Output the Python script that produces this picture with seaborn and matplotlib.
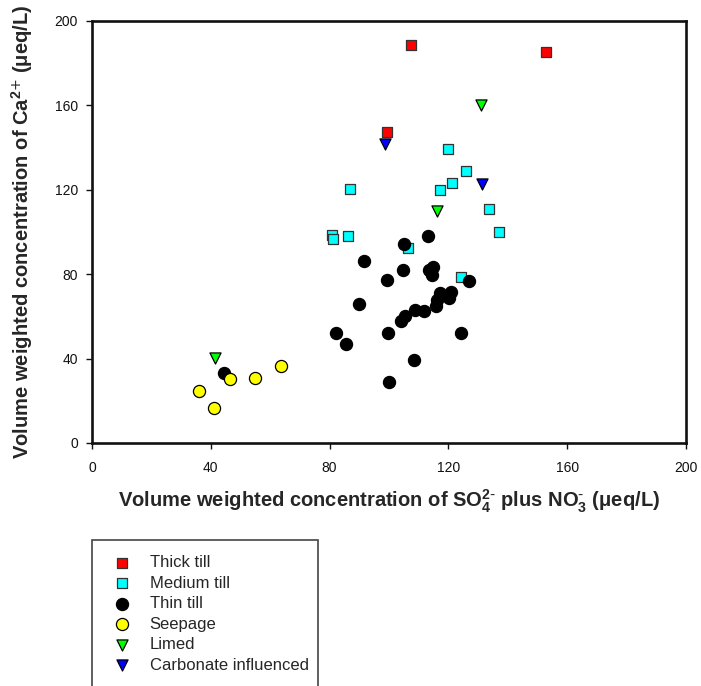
import matplotlib
matplotlib.use("Agg")
import matplotlib.pyplot as plt
import seaborn as sns
import pandas as pd
from matplotlib.patches import Rectangle

# ---------------- data ----------------
thick_x = [107.4, 152.9, 99.4]
thick_y = [188.6, 185.5, 147.5]

medium_x = [120.0, 126.0, 121.2, 117.3, 86.9, 133.8, 137.1, 80.7, 81.3, 86.3, 106.3, 124.3]
medium_y = [139.2, 128.8, 123.2, 119.8, 120.2, 111.0, 100.1, 98.6, 96.7, 98.1, 92.3, 78.8]

thin_x = [113.1, 104.9, 91.6, 104.6, 114.9, 113.6, 114.6, 99.2, 126.8, 117.2, 120.8, 120.3,
          116.0, 115.9, 89.8, 108.8, 111.9, 105.4, 103.9, 82.2, 99.7, 124.4, 85.5, 108.4,
          99.9, 44.5]
thin_y = [98.3, 94.3, 86.3, 81.8, 83.6, 82.0, 79.6, 77.3, 76.8, 70.9, 71.7, 68.6,
          67.8, 64.9, 65.7, 62.9, 62.6, 60.3, 58.0, 52.0, 52.3, 52.3, 46.8, 39.5,
          28.9, 33.0]

seep_x = [36.0, 41.2, 46.5, 54.9, 63.6]
seep_y = [24.5, 16.7, 30.2, 30.7, 36.4]

limed_x = [131.1, 116.2, 41.4]
limed_y = [160.2, 110.1, 40.4]

carb_x = [98.7, 131.2]
carb_y = [141.6, 122.6]

groups = ["Thick till", "Medium till", "Thin till", "Seepage", "Limed", "Carbonate influenced"]
xs = [thick_x, medium_x, thin_x, seep_x, limed_x, carb_x]
ys = [thick_y, medium_y, thin_y, seep_y, limed_y, carb_y]
colors = ["#FF0000", "#00FFFF", "#000000", "#FFFF00", "#00FF00", "#0000FF"]
markers = ["s", "s", "o", "o", "v", "v"]
sizes = [50, 50, 76, 76, 64, 64]
edges = ["#333333", "#333333", "#000000", "#000000", "#000000", "#000000"]

x_ticks = [0, 40, 80, 120, 160, 200]
y_ticks = [0, 40, 80, 120, 160, 200]

# ---------------- styling ----------------
sns.set_style("ticks")
plt.rcParams["font.family"] = ["Liberation Sans", "DejaVu Sans"]
plt.rcParams["mathtext.default"] = "regular"

W, H = 701, 686
fig = plt.figure(figsize=(W / 100, H / 100), dpi=100)
L, R, T, B = 92, 686, 21, 443
ax = fig.add_axes([L / W, 1 - B / H, (R - L) / W, (B - T) / H])

for g, x, y, c, m, s, e in zip(groups, xs, ys, colors, markers, sizes, edges):
    df = pd.DataFrame({"x": x, "y": y})
    sns.scatterplot(data=df, x="x", y="y", ax=ax, color=c, marker=m, s=s,
                    edgecolor=e, linewidth=0.9, label=g, legend=False, zorder=3)

ax.set_xlim(0, 200)
ax.set_ylim(0, 200)
ax.set_xticks(x_ticks)
ax.set_yticks(y_ticks)
ax.set_xticklabels([str(t) for t in x_ticks])
ax.set_yticklabels([str(t) for t in y_ticks])
for sp in ax.spines.values():
    sp.set_visible(True)
    sp.set_linewidth(1.9)
    sp.set_color("#111111")
ax.tick_params(direction="out", length=4, width=1, colors="#111111", labelsize=10)
ax.tick_params(axis="x", pad=9)
ax.tick_params(axis="y", pad=6)

ax.set_xlabel(r"Volume weighted concentration of SO$_4^{2\text{-}}$ plus NO$_3^{\text{-}}$ (μeq/L)",
              fontsize=14.5, fontweight="bold", labelpad=9)
ax.set_ylabel(r"Volume weighted concentration of Ca$^{2\text{+}}$ (μeq/L)",
              fontsize=14.5, fontweight="bold", labelpad=14)

handles, labels = ax.get_legend_handles_labels()
leg = fig.legend(handles, labels, loc="upper left",
                 bbox_to_anchor=(110 / W, 1 - 555 / H),
                 frameon=False, fontsize=12, borderpad=0, borderaxespad=0,
                 handlelength=1.4, handletextpad=0.98, labelspacing=0.33,
                 scatterpoints=1)

rect = Rectangle((92 / W, -0.05), (318 - 92) / W, (686 - 540) / H + 0.05,
                 transform=fig.transFigure, fill=False, linewidth=1.2,
                 edgecolor="#444444", clip_on=False)
fig.add_artist(rect)

fig.savefig("out.png", dpi=100)
